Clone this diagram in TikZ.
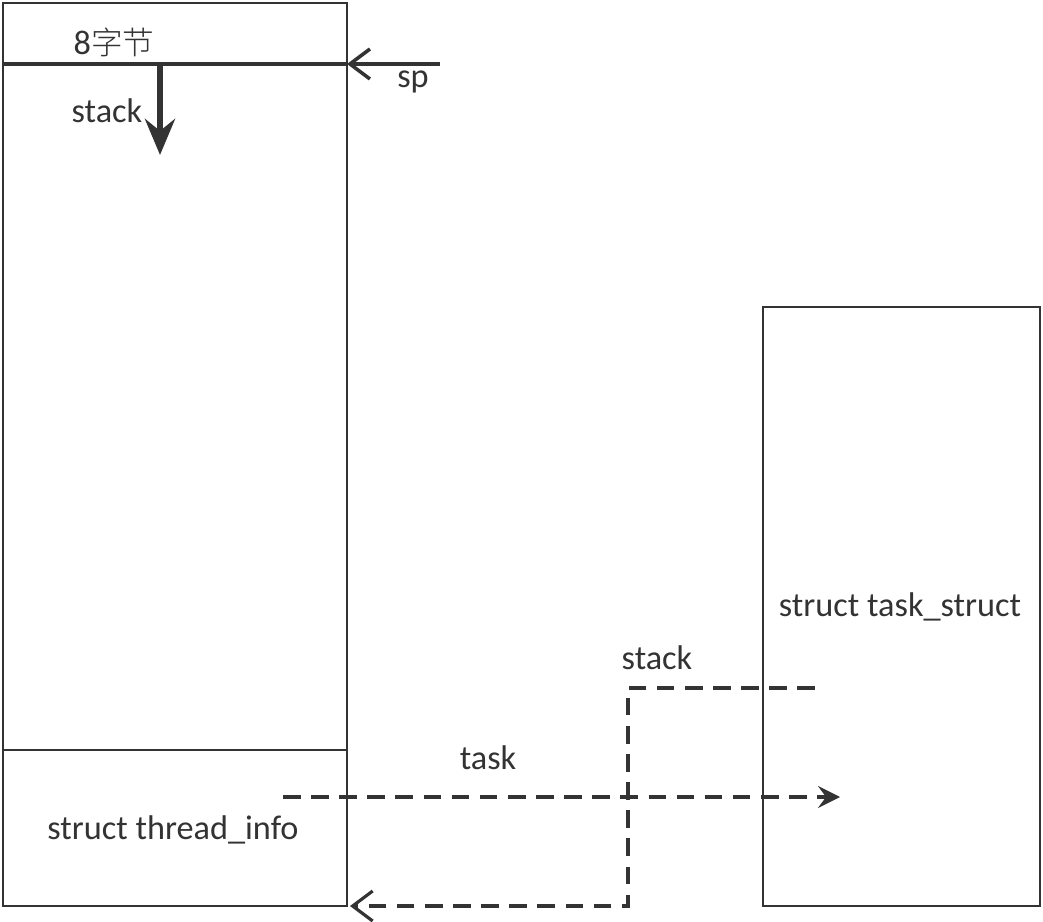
\documentclass[tikz,border=0pt]{standalone}
\usepackage{fontspec}
\setmainfont{Carlito}
\newfontfamily\cjk{Noto Sans CJK SC Light}
\usetikzlibrary{arrows.meta}

\begin{document}
\begin{tikzpicture}[line width=.75pt, ink/.style={black!80},
    font=\fontsize{9.75}{12}\selectfont,
    ptr/.style={ink,line width=.9pt,dash pattern=on 5pt off 3pt}]
  \useasboundingbox (0,0) rectangle (10.43,9.21);
  % kernel stack and thread_info
  \draw[ink] (0.03,0.15) coordinate (kbl) rectangle (3.47,9.18) coordinate (ktr);
  \draw[ink,line width=1.1pt] (0.03,8.57) coordinate (spl) -- (3.47,8.57) coordinate (spr);
  \draw[ink] (0.03,1.71) -- (3.47,1.71);
  % task_struct
  \draw[ink] (7.63,0.15) rectangle (10.40,6.14);
  \node[ink] (pad) at (1.14,8.79) {8{\cjk\fontsize{9}{12}\selectfont 字节}};
  \node[ink] (grow) at (1.07,8.10) {stack};
  \node[ink] (splbl) at (4.13,8.39) {sp};
  \node[ink] (ti) at (1.73,0.91) {struct thread\_info};
  \node[ink] (ts) at (9.00,3.14) {struct task\_struct};
  \node[ink] (stlbl) at (6.57,2.63) {stack};
  \node[ink] (tklbl) at (4.88,1.63) {task};
  \coordinate (gtop) at (1.60,8.57);
  \coordinate (gbot) at (1.60,7.66);
  \coordinate (spin) at (4.40,8.57);
  \coordinate (tkfrom) at (2.83,1.24);
  \coordinate (tkto) at (8.40,1.24);
  \coordinate (stfrom) at (8.15,2.33);
  \coordinate (stbend) at (6.28,2.33);
  \coordinate (stdown) at (6.28,0.15);
  \coordinate (stto) at (3.50,0.15);
  \draw[ink,line width=1.8pt,-{Stealth[length=3.6mm,width=3mm,inset=1.2mm]}] (gtop) -- (gbot);
  \draw[ink,line width=1pt,-{Straight Barb[length=2mm,width=3mm]}] (spin) -- (spr);
  \draw[ptr,-{Stealth[length=2.2mm,width=2.2mm,inset=.8mm]}] (tkfrom) -- (tkto);
  \draw[ptr,-{Straight Barb[length=2mm,width=3mm]}] (stfrom) -- (stbend) -- (stdown) -- (stto);
\end{tikzpicture}
\end{document}
